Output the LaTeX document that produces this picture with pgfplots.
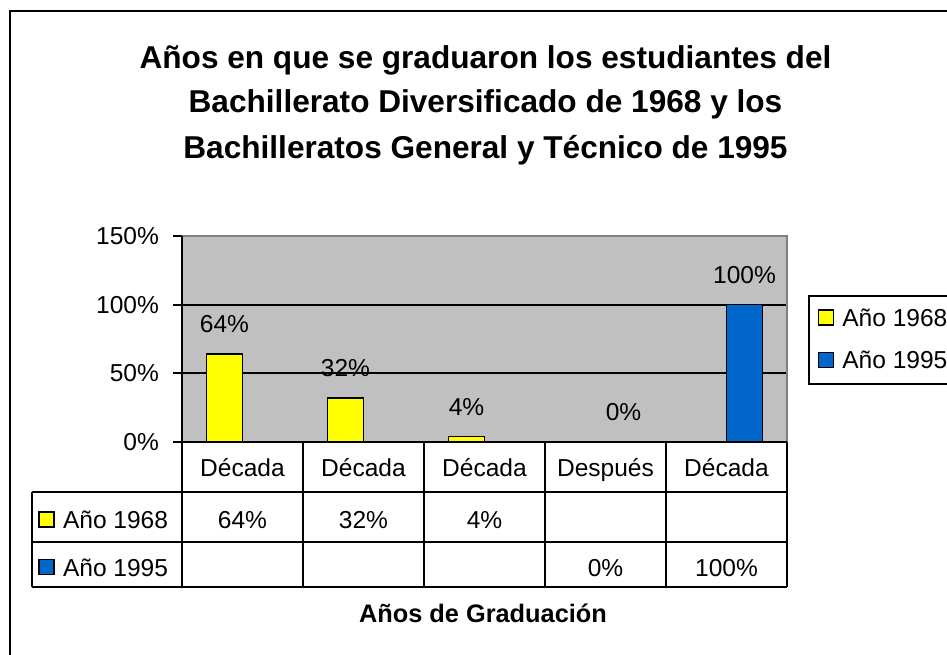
\documentclass[border=0pt]{standalone}
\usepackage{fontspec}
\setmainfont{Liberation Sans}
\usepackage{pgfplots}
\pgfplotsset{compat=1.18}
\definecolor{plotGrey}{HTML}{C0C0C0}
\definecolor{edgeGrey}{HTML}{808080}
\definecolor{barYellow}{HTML}{FFFF00}
\definecolor{barBlue}{HTML}{0066CC}
\newcommand{\fs}{\fontsize{18.4}{22}\selectfont}
\newcommand{\ft}{\fontsize{23.7}{34}\selectfont\bfseries}

\begin{document}
\begin{tikzpicture}
% frame and title, in pixels (1px = 0.75pt), y downwards
\begin{scope}[x=0.75pt, y=-0.75pt]
\draw[line width=1.5pt] (10,700) -- (10,11) -- (1000,11);
\node[font=\ft, anchor=base] at (485.5,68) {Años en que se graduaron los estudiantes del};
\node[font=\ft, anchor=base] at (485.5,112) {Bachillerato Diversificado de 1968 y los};
\node[font=\ft, anchor=base] at (485.5,158) {Bachilleratos General y Técnico de 1995};
\end{scope}

\begin{axis}[
    at={(136.5pt,-331.5pt)}, anchor=south west,
    scale only axis, width=453.75pt, height=154.5pt,
    xmin=0.5, xmax=5.5, ymin=0, ymax=150,
    ybar=0pt, bar width=27pt,
    axis background/.style={fill=plotGrey},
    axis line style={draw=none},
    xtick=\empty,
    ytick={0,50,100,150}, ytick pos=left,
    yticklabel={\pgfmathprintnumber{\tick}\%},
    yticklabel style={font=\fs, xshift=-7pt, /pgf/number format/assume math mode=true},
    tick align=outside, major tick length=6.75pt,
    tick style={black, line width=1.5pt},
    ymajorgrids, grid style={black, line width=1.5pt},
    nodes near coords={\pgfmathprintnumber{\pgfplotspointmeta}\%},
    nodes near coords style={font=\fs, anchor=base, yshift=15.9pt,
        /pgf/number format/assume math mode=true},
    legend style={at={(1.0347,0.7160)}, anchor=north west,
        draw=black, line width=1.5pt, fill=white, font=\fs,
        inner xsep=6.75pt, inner ysep=9.7pt, row sep=17.3pt, column sep=6pt,
        nodes={inner sep=0pt}},
    legend cell align=left,
    legend image code/.code={\draw[#1, line width=1pt] (0pt,-5pt) rectangle (11.25pt,6.25pt);},
    clip=false,
]
\addplot[fill=barYellow, draw=black, line width=1.2pt]
    coordinates {(1,64) (2,32) (3,4)};
\addlegendentry{Año 1968}
\addplot[fill=barBlue, draw=black, line width=1.2pt]
    coordinates {(4,0) (5,100)};
\addlegendentry{Año 1995}
% plot area edges: grey top and right, black value axis
\draw[edgeGrey, line width=1.5pt] (rel axis cs:0,1) -- (rel axis cs:1,1) -- (rel axis cs:1,0);
\draw[black, line width=1.5pt] (rel axis cs:0,1) -- (rel axis cs:0,0) -- (rel axis cs:1,0);
\end{axis}

% data table under the plot, in pixels
\begin{scope}[x=0.75pt, y=-0.75pt, line width=1.5pt]
\draw (182,442) -- (182,587);
\foreach \xx in {303,424,545,666,787} \draw (\xx,442) -- (\xx,587);
\draw (32,492) -- (32,587);
\foreach \yy in {492,542,587} \draw (32,\yy) -- (787,\yy);
\foreach \xx/\txt in {242.5/Década,363.5/Década,484.5/Década,605.5/Después,726.5/Década}
    \node[font=\fs, anchor=base] at (\xx,476) {\txt};
\draw[fill=barYellow, line width=1pt] (39,512) rectangle (54,527);
\draw[fill=barBlue, line width=1pt] (39,559.5) rectangle (54,574.5);
\node[font=\fs, anchor=base west, inner sep=0pt] at (62,528) {Año 1968};
\node[font=\fs, anchor=base west, inner sep=0pt] at (62,576) {Año 1995};
\node[font=\fs, anchor=base] at (242.5,528) {64\%};
\node[font=\fs, anchor=base] at (363.5,528) {32\%};
\node[font=\fs, anchor=base] at (484.5,528) {4\%};
\node[font=\fs, anchor=base] at (605.5,576) {0\%};
\node[font=\fs, anchor=base] at (726.5,576) {100\%};
\node[font=\fontsize{19}{22}\selectfont\bfseries, anchor=base] at (483,622) {Años de Graduación};
\end{scope}

% the page is exactly the 947 x 654 px frame
\pgfresetboundingbox
\path[use as bounding box] (0,0) rectangle (710.25pt,-490.5pt);
\end{tikzpicture}
\end{document}
